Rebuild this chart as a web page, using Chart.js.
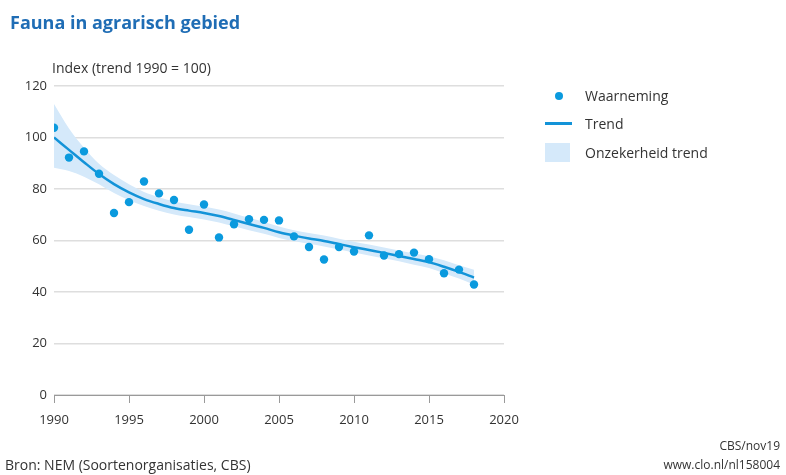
<!DOCTYPE html>
<html>
<head>
<meta charset="utf-8">
<script src="https://cdn.jsdelivr.net/npm/chart.js@4"></script>
<style>
  html, body { margin: 0; padding: 0; background: #fff; }
  body { width: 786px; height: 475px; position: relative; overflow: hidden; font-family: "Open Sans", sans-serif; color: #333; }
  #wrap { position: absolute; left: 0; top: 0; width: 786px; height: 475px; }
  .txt { position: absolute; white-space: nowrap; }
  #titel { left: 10px; top: 10px; font-size: 18px; font-weight: bold; color: #1f6db5; }
  #yas { left: 52px; top: 58px; font-size: 14px; }
  #bron { left: 5px; top: 455px; font-size: 14px; }
  #cbs { right: 6px; top: 437px; font-size: 12px; text-align: right; }
  #url { right: 6px; top: 456px; font-size: 12px; text-align: right; }
  .leg { position: absolute; font-size: 14px; white-space: nowrap; }
  .dot { position: absolute; left: 555px; top: 92px; width: 8px; height: 8px; border-radius: 50%; background: #0a9ade; }
  .lijn { position: absolute; left: 545px; top: 122px; width: 27px; height: 2.5px; background: #1393d8; }
  .vlak { position: absolute; left: 545px; top: 143px; width: 25px; height: 19px; background: #d5e9fa; }
</style>
</head>
<body>
<div id="wrap"><canvas id="grafiek" width="786" height="475"></canvas></div>
<div class="txt" id="titel">Fauna in agrarisch gebied</div>
<div class="txt" id="yas">Index (trend 1990 = 100)</div>
<div class="dot"></div><div class="leg" style="left:585px;top:86px">Waarneming</div>
<div class="lijn"></div><div class="leg" style="left:585px;top:114px">Trend</div>
<div class="vlak"></div><div class="leg" style="left:585px;top:143px">Onzekerheid trend</div>
<div class="txt" id="bron">Bron: NEM (Soortenorganisaties, CBS)</div>
<div class="txt" id="cbs">CBS/nov19</div>
<div class="txt" id="url">www.clo.nl/nl158004</div>
<script>
const jaren = [1990, 1991, 1992, 1993, 1994, 1995, 1996, 1997, 1998, 1999, 2000, 2001, 2002, 2003, 2004,
  2005, 2006, 2007, 2008, 2009, 2010, 2011, 2012, 2013, 2014, 2015, 2016, 2017, 2018];
const waarneming = [103.8, 92.2, 94.6, 85.9, 70.7, 74.9, 82.9, 78.3, 75.7, 64.2, 74.0, 61.2, 66.3, 68.3, 68.0,
  67.8, 61.6, 57.5, 52.6, 57.5, 55.7, 62.0, 54.2, 54.7, 55.3, 52.7, 47.3, 48.7, 42.9];
const trend = [100, 95.2, 90.4, 85.8, 81.9, 78.7, 76.1, 74.2, 72.6, 71.6, 70.7, 69.5, 68.0, 66.4, 64.9,
  63.2, 61.9, 60.8, 59.8, 58.6, 57.4, 56.3, 55.2, 54.0, 52.8, 51.6, 49.8, 47.8, 45.6];
const bovengrens = [113, 103.5, 96.0, 89.8, 85.4, 81.8, 78.8, 76.8, 75.1, 74.1, 73.2, 72.0, 70.5, 68.8, 67.2,
  65.4, 64.0, 62.9, 61.9, 60.7, 59.5, 58.4, 57.3, 56.1, 55.0, 53.9, 52.3, 50.4, 48.6];
const ondergrens = [88.3, 87.0, 84.8, 81.8, 78.4, 75.6, 73.4, 71.6, 70.1, 69.1, 68.2, 67.0, 65.5, 64.0, 62.6,
  61.0, 59.8, 58.7, 57.7, 56.5, 55.3, 54.2, 53.1, 51.9, 50.6, 49.3, 47.3, 45.2, 42.8];
const xTicks = [1990, 1995, 2000, 2005, 2010, 2015, 2020];
const yTicks = [0, 20, 40, 60, 80, 100, 120];

const punten = arr => jaren.map((j, i) => ({ x: j, y: arr[i] }));
const lettertype = { family: '"Open Sans", sans-serif', size: 13 };

new Chart(document.getElementById('grafiek'), {
  type: 'line',
  data: {
    datasets: [
      { label: 'ondergrens', data: punten(ondergrens), borderWidth: 0, pointRadius: 0,
        cubicInterpolationMode: 'monotone', fill: false, order: 3 },
      { label: 'Onzekerheid trend', data: punten(bovengrens), borderWidth: 0, pointRadius: 0,
        cubicInterpolationMode: 'monotone', fill: '-1', backgroundColor: '#d5e9fa', order: 3 },
      { label: 'Trend', data: punten(trend), borderColor: '#1393d8', borderWidth: 2.5, pointRadius: 0,
        cubicInterpolationMode: 'monotone', fill: false, order: 2 },
      { label: 'Waarneming', data: punten(waarneming), showLine: false, pointRadius: 4.2, pointBorderWidth: 0,
        pointBackgroundColor: '#0a9ade', order: 1 }
    ]
  },
  options: {
    responsive: false,
    animation: false,
    layout: { padding: { left: 0, right: 282, top: 86, bottom: 50 } },
    plugins: { legend: { display: false }, tooltip: { enabled: false } },
    scales: {
      x: {
        type: 'linear', min: 1990, max: 2020,
        afterBuildTicks: s => { s.ticks = xTicks.map(v => ({ value: v })); },
        afterFit: s => { s.height = 30; },
        ticks: { color: '#333', font: lettertype, padding: 9, callback: v => String(v) },
        grid: { drawOnChartArea: false, drawTicks: true, tickLength: 8, color: '#9a9a9a' },
        border: { display: true, color: '#9a9a9a', width: 1 }
      },
      y: {
        min: 0, max: 120,
        afterBuildTicks: s => { s.ticks = yTicks.map(v => ({ value: v })); },
        afterFit: s => { s.width = 54; },
        ticks: { color: '#333', font: lettertype, padding: 7 },
        grid: { color: '#dedede', lineWidth: 1.5, drawTicks: false },
        border: { display: false }
      }
    }
  }
});
</script>
</body>
</html>
